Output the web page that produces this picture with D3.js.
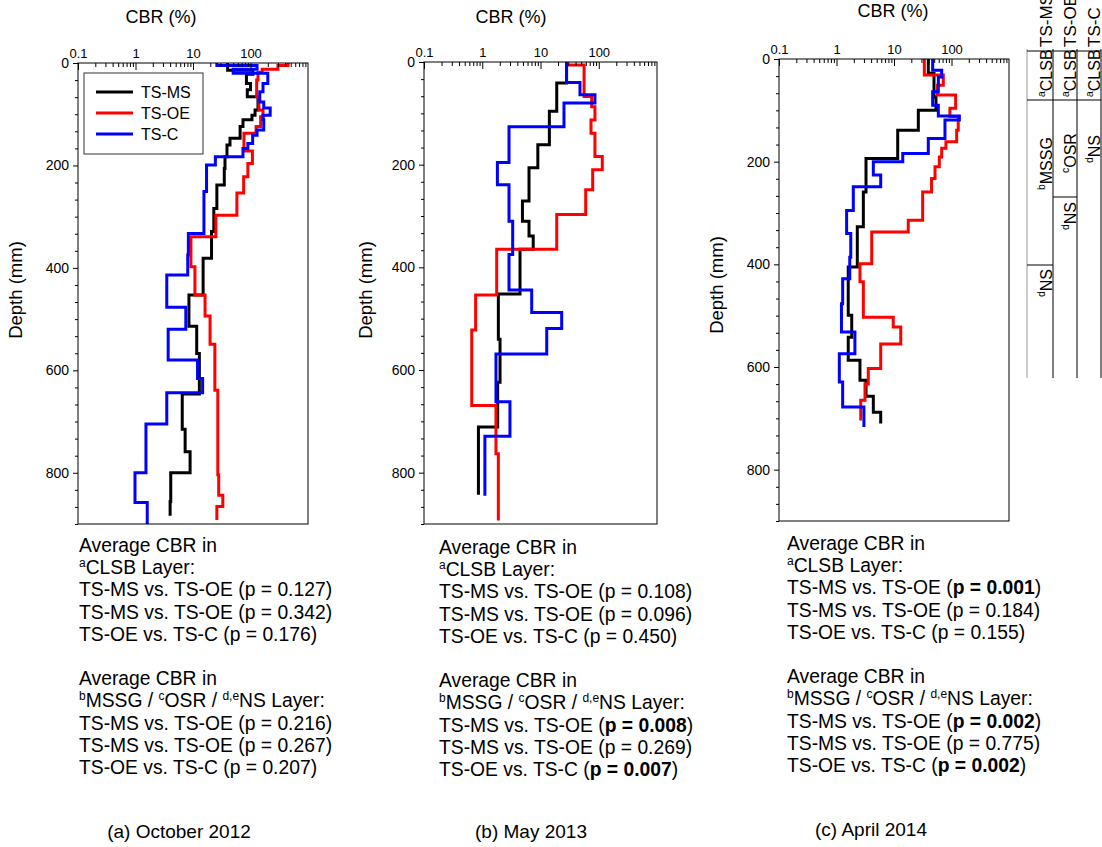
<!DOCTYPE html>
<html><head><meta charset="utf-8">
<script src="https://cdn.jsdelivr.net/npm/d3@7"></script>
<style>
body{margin:0;background:#fff}
svg{display:block}
text{font-family:"Liberation Sans",Arial,Helvetica,sans-serif;fill:#000}
</style>
</head><body>
<svg id="chart" width="1102" height="847"></svg>
<script>
// ---------------- DATA ----------------
const cbrTicks = [0.1, 1, 10, 100];
const depthTicks = [0, 200, 400, 600, 800];
const seriesNames = ["TS-MS", "TS-OE", "TS-C"];
const seriesColors = ["#000000", "#ff0000", "#0000ff"];
const panelCaptions = ["(a) October 2012", "(b) May 2013", "(c) April 2014"];

// (a) October 2012 — step profiles: depth boundaries (mm) and CBR (%) per layer
const depthA_MS = [0,14,22,40,52,66,92,102,111,124,147,160,183,206,238,284,329,381,453,514,567,646,715,759,800,856,884];
const cbrA_MS   = [40,110,85,100,88,135,120,106,74,66,44,39,36,35,26,23,21,15,8.5,11.6,12.9,6.5,7.3,8.9,4.1,4.0];
const depthA_OE = [0,5,12,18,33,66,92,105,124,137,172,196,222,254,297,339,398,453,494,549,639,804,844,866,892];
const cbrA_OE   = [450,300,160,135,128,140,165,150,125,77,108,90,76,58,25,9.2,10.8,16.2,19.8,24,27,28,33,26];
const depthA_C  = [0,5,12,20,40,56,76,88,102,111,131,141,157,167,183,199,251,333,375,414,477,520,580,616,644,705,800,858,900];
const cbrA_C    = [26,130,50,200,165,145,170,220,165,170,130,109,90,74,24.5,17.2,15.5,8.3,8.1,3.5,7.5,3.7,12,14.7,3.5,1.52,0.98,1.6];

// (b) May 2013
const depthB_MS = [0,41,96,161,206,271,310,339,365,452,540,624,711,843];
const cbrB_MS   = [28,19,14.2,9.0,6.35,4.9,6.35,7.5,4.45,1.89,2.02,1.84,0.86];
const depthB_OE = [0,6,67,87,113,139,184,210,249,297,365,454,522,669,763,893];
const cbrB_OE   = [28,56,75.6,86,73.6,86,115,78.7,59.7,19,1.77,0.77,0.66,1.72,1.89];
const depthB_C  = [0,40,64,80,126,196,239,310,375,444,488,519,569,662,729,845];
const cbrB_C    = [28,47.6,86,25.3,2.88,1.82,2.88,3.33,2.88,7.06,23.1,12.8,1.72,2.99,1.11];

// (c) April 2014
const depthC_MS = [0,28,74,100,139,194,259,327,405,499,542,587,626,657,688,710];
const cbrC_MS   = [39.5,49.6,53.7,26.5,11.6,3.26,2.93,2.3,1.6,1.84,1.6,2.56,3.26,4.37,5.87];
const depthC_OE = [0,31,51,70,96,112,139,161,174,191,210,233,259,314,337,399,434,503,522,555,603,633,665,704];
const cbrC_OE   = [33.7,72,57,118,94,131,123,80,67.5,61.4,51.7,45,31.5,17.7,4.1,2.56,2.93,9.7,13.1,5.87,3.57,3.13,2.64];
const depthC_C  = [0,22,35,64,90,111,119,155,184,200,226,249,295,340,386,428,477,532,574,629,678,717];
const cbrC_C    = [47,67.5,59,47,59,137,77,39.5,14.2,4.37,5.87,1.96,1.5,1.77,1.7,1.28,1.22,2.09,1.12,1.28,3.0];

// statistics text
const comparisons = ["TS-MS vs. TS-OE", "TS-MS vs. TS-OE", "TS-OE vs. TS-C"];
const pA_top = ["0.127","0.342","0.176"], boldA_top = [false,false,false];
const pA_bot = ["0.216","0.267","0.207"], boldA_bot = [false,false,false];
const pB_top = ["0.108","0.096","0.450"], boldB_top = [false,false,false];
const pB_bot = ["0.008","0.269","0.007"], boldB_bot = [true,false,true];
const pC_top = ["0.001","0.184","0.155"], boldC_top = [true,false,false];
const pC_bot = ["0.002","0.775","0.002"], boldC_bot = [true,false,true];

// layer table (right side)
const tableHeaders = ["TS-MS", "TS-OE", "TS-C"];
const tableCol1 = [["a","CLSB"],["b","MSSG"],["d","NS"]];
const tableCol2 = [["a","CLSB"],["c","OSR"],["d","NS"]];
const tableCol3 = [["a","CLSB"],["d","NS"]];

// ---------------- DRAWING ----------------
const svg = d3.select("#chart");
const FONT = '"Liberation Sans",Arial,Helvetica,sans-serif';

const panels = [
  {series:[[depthA_MS,cbrA_MS],[depthA_OE,cbrA_OE],[depthA_C,cbrA_C]], p:[pA_top,boldA_top,pA_bot,boldA_bot],
   left:78, right:308, top:63, bottom:524, titleX:161, titleY:23, depthX:22, depthY:290,
   textX:79, textY:552, capX:179, capY:838, legend:true},
  {series:[[depthB_MS,cbrB_MS],[depthB_OE,cbrB_OE],[depthB_C,cbrB_C]], p:[pB_top,boldB_top,pB_bot,boldB_bot],
   left:424, right:657, top:62, bottom:524, titleX:511, titleY:23, depthX:372, depthY:290,
   textX:439, textY:554, capX:531, capY:838, legend:false},
  {series:[[depthC_MS,cbrC_MS],[depthC_OE,cbrC_OE],[depthC_C,cbrC_C]], p:[pC_top,boldC_top,pC_bot,boldC_bot],
   left:779, right:1009, top:59, bottom:521, titleX:893, titleY:17, depthX:723, depthY:285,
   textX:787, textY:550, capX:871, capY:836, legend:false}
];

function stepPoints(depths, cbr){
  const pts = [];
  cbr.forEach((v,i)=>{ pts.push([v, depths[i]]); pts.push([v, depths[i+1]]); });
  return pts;
}

const minorX = [];
[0.1,1,10,100].forEach(dec=>{ for(let k=2;k<=9;k++) minorX.push(dec*k); });
const minorY = [];
for(let k=0;k<=27;k++){ if(k%6!==0) minorY.push(k*200/6); }

panels.forEach((P,pi)=>{
  const x = d3.scaleLog().domain([0.1,1000]).range([P.left,P.right]);
  const y = d3.scaleLinear().domain([0,900]).range([P.top,P.bottom]);
  const g = svg.append("g");

  // lines
  const line = d3.line().x(d=>x(d[0])).y(d=>y(d[1]));
  P.series.forEach((s,si)=>{
    g.append("path").attr("d", line(stepPoints(s[0], s[1])))
      .attr("fill","none").attr("stroke",seriesColors[si]).attr("stroke-width",3)
      .attr("stroke-linejoin","miter").attr("stroke-linecap","butt");
  });

  // frame
  g.append("rect").attr("x",P.left).attr("y",P.top).attr("width",P.right-P.left).attr("height",P.bottom-P.top)
    .attr("fill","none").attr("stroke","#000").attr("stroke-width",1);

  // top axis (log)
  const ax = d3.axisTop(x).tickValues(cbrTicks).tickFormat(d=>String(d)).tickSizeInner(-7).tickSizeOuter(0).tickPadding(5);
  const gx = g.append("g").attr("transform",`translate(0,${P.top})`).call(ax);
  gx.select(".domain").remove();
  gx.selectAll("text").attr("font-size",13).attr("font-family",FONT);
  const axm = d3.axisTop(x).tickValues(minorX).tickFormat("").tickSizeInner(-4).tickSizeOuter(0);
  const gxm = g.append("g").attr("transform",`translate(0,${P.top})`).call(axm);
  gxm.select(".domain").remove();

  // left axis
  const ay = d3.axisLeft(y).tickValues(depthTicks).tickSizeInner(5).tickSizeOuter(0).tickPadding(4);
  const gy = g.append("g").attr("transform",`translate(${P.left},0)`).call(ay);
  gy.select(".domain").remove();
  gy.selectAll("text").attr("font-size",14).attr("font-family",FONT);
  const aym = d3.axisLeft(y).tickValues(minorY).tickFormat("").tickSizeInner(3).tickSizeOuter(0);
  const gym = g.append("g").attr("transform",`translate(${P.left},0)`).call(aym);
  gym.select(".domain").remove();

  // titles
  g.append("text").attr("x",P.titleX).attr("y",P.titleY).attr("text-anchor","middle")
    .attr("font-size",18).text("CBR (%)");
  g.append("text").attr("transform",`translate(${P.depthX},${P.depthY}) rotate(-90)`)
    .attr("text-anchor","middle").attr("font-size",18.5).text("Depth (mm)");

  // legend
  if(P.legend){
    const lg = g.append("g");
    lg.append("rect").attr("x",84).attr("y",73).attr("width",119).attr("height",81)
      .attr("fill","#fff").attr("stroke","#333").attr("stroke-width",1);
    const ly = [92,113,134];
    seriesNames.forEach((n,i)=>{
      lg.append("line").attr("x1",96).attr("x2",133).attr("y1",ly[i]).attr("y2",ly[i])
        .attr("stroke",seriesColors[i]).attr("stroke-width",3);
      lg.append("text").attr("x",141).attr("y",ly[i]+6).attr("font-size",16).text(n);
    });
  }

  // statistics text
  const lh = 22.2;
  const t = g.append("g").attr("font-size",19.3);
  const addLine = (i)=> t.append("text").attr("x",P.textX).attr("y",P.textY + i*lh);
  addLine(0).text("Average CBR in");
  let l = addLine(1);
  l.append("tspan").attr("font-size",12).attr("dy",-7).text("a");
  l.append("tspan").attr("dy",7).text("CLSB Layer:");
  const [pTop,bTop,pBot,bBot] = P.p;
  const pLine = (i, comp, p, bold)=>{
    const e = addLine(i);
    e.append("tspan").text(comp + " (");
    e.append("tspan").attr("font-weight", bold ? "bold" : "normal").text("p = " + p);
    e.append("tspan").text(")");
  };
  comparisons.forEach((c,i)=> pLine(2+i, c, pTop[i], bTop[i]));
  addLine(6).text("Average CBR in");
  l = addLine(7);
  l.append("tspan").attr("font-size",12).attr("dy",-7).text("b");
  l.append("tspan").attr("dy",7).text("MSSG / ");
  l.append("tspan").attr("font-size",12).attr("dy",-7).text("c");
  l.append("tspan").attr("dy",7).text("OSR / ");
  l.append("tspan").attr("font-size",12).attr("dy",-7).text("d,e");
  l.append("tspan").attr("dy",7).text("NS Layer:");
  comparisons.forEach((c,i)=> pLine(8+i, c, pBot[i], bBot[i]));

  // caption
  g.append("text").attr("x",P.capX).attr("y",P.capY).attr("text-anchor","middle")
    .attr("font-size",19).text(panelCaptions[pi]);
});

// ---------------- LAYER TABLE ----------------
const tb = svg.append("g");
const colRight = [1053, 1077, 1101];
const tTop = 49, tBot = 378;
tb.append("line").attr("x1",1027).attr("x2",1027).attr("y1",tTop).attr("y2",tBot).attr("stroke","#999").attr("stroke-width",1);
colRight.forEach(cx=>{
  tb.append("line").attr("x1",cx).attr("x2",cx).attr("y1",tTop).attr("y2",tBot).attr("stroke","#000").attr("stroke-width",1);
});
tb.append("line").attr("x1",1027).attr("x2",1101).attr("y1",51).attr("y2",51).attr("stroke","#000");
tb.append("line").attr("x1",1027).attr("x2",1101).attr("y1",100).attr("y2",100).attr("stroke","#000");
tb.append("line").attr("x1",1027).attr("x2",1053).attr("y1",265).attr("y2",265).attr("stroke","#000");
tb.append("line").attr("x1",1053).attr("x2",1077).attr("y1",197).attr("y2",197).attr("stroke","#000");

function vText(xb, yStart, parts, size){
  const e = tb.append("text").attr("transform",`translate(${xb},${yStart}) rotate(-90)`).attr("font-size",size);
  if(parts.length===2){
    e.append("tspan").attr("font-size",size*0.65).attr("dy",-size*0.42).text(parts[0]);
    e.append("tspan").attr("dy",size*0.42).text(parts[1]);
  } else e.text(parts[0]);
}
tableHeaders.forEach((h,i)=> vText(colRight[i]-1, 47, [h], 17));
const cellStarts1 = [97,190,297], cellStarts2 = [97,173,230], cellStarts3 = [97,163];
tableCol1.forEach((c,i)=> vText(colRight[0]-1, cellStarts1[i], c, 16));
tableCol2.forEach((c,i)=> vText(colRight[1]-1, cellStarts2[i], c, 16));
tableCol3.forEach((c,i)=> vText(colRight[2]-1, cellStarts3[i], c, 16));
</script>
</body></html>
